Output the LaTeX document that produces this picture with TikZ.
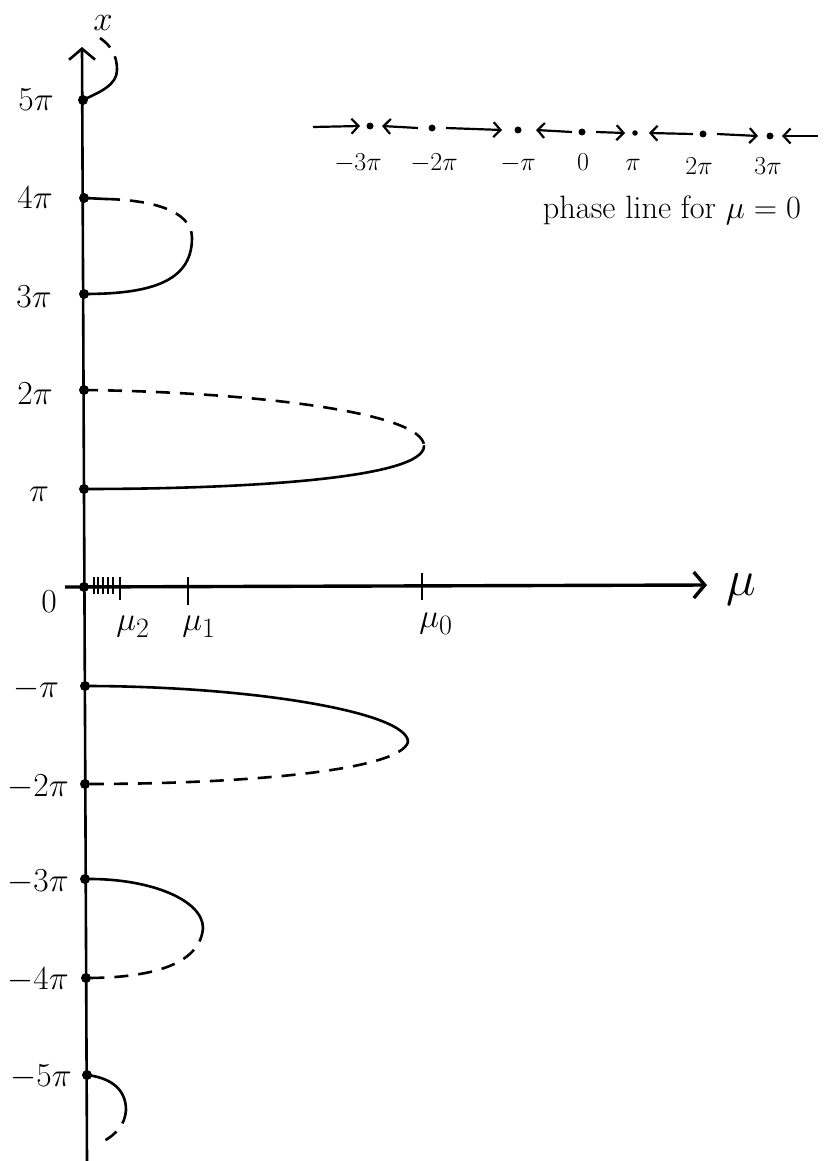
\documentclass[tikz,border=0pt]{standalone}
\usetikzlibrary{arrows.meta}
\begin{document}
\begin{tikzpicture}[x=1pt,y=-1pt,
  ax/.style={line width=2.6pt,-{Straight Barb[length=11pt,width=26pt]}},
  curve/.style={line width=2.6pt,line cap=round},
  dsh/.style={line width=2.6pt,dash pattern=on 14pt off 10pt},
  dot/.style={circle,fill,inner sep=0pt,minimum size=10pt},
  sdot/.style={circle,fill,inner sep=0pt,minimum size=7pt},
  parr/.style={line width=2.2pt,-{Straight Barb[length=7pt,width=15pt]}},
  lab/.style={font=\Huge,scale=1.35,transform shape,inner sep=1pt},
  plab/.style={font=\huge,scale=1.25,transform shape,inner sep=1pt},
  tick/.style={line width=2.4pt}]
\useasboundingbox (0,0) rectangle (824,1161);
\fill[white] (0,0) rectangle (824,1161);

% vertical axis
\coordinate (vb) at (87,1161);
\coordinate (vt) at (82,47);
\draw[ax] (vb) -- (vt);
% horizontal axis
\coordinate (hl) at (65,587);
\coordinate (hr) at (707,585);
\draw[ax,line width=3.4pt] (hl) -- (hr);

% dots on axis
\node[dot] (p5) at (83,100) {};
\node[dot] (p4) at (84,198) {};
\node[dot] (p3) at (84,294) {};
\node[dot] (p2) at (84,390) {};
\node[dot] (p1) at (84,489) {};
\node[dot] (p0) at (84,587) {};
\node[dot] (m1) at (85,686) {};
\node[dot] (m2) at (85,784) {};
\node[dot] (m3) at (85,879) {};
\node[dot] (m4) at (86,978) {};
\node[dot] (m5) at (87,1075) {};

% labels left
\node[lab] (l5) at (36,100) {$5\pi$};
\node[lab] (l4) at (35,198) {$4\pi$};
\node[lab] (l3) at (34,297) {$3\pi$};
\node[lab] (l2) at (35,394) {$2\pi$};
\node[lab] (l1) at (39,494) {$\pi$};
\node[lab] (l0) at (49,602) {$0$};
\node[lab] (lm1) at (36,689) {$-\pi$};
\node[lab] (lm2) at (38,787) {$-2\pi$};
\node[lab] (lm3) at (38,882) {$-3\pi$};
\node[lab] (lm4) at (38,980) {$-4\pi$};
\node[lab] (lm5) at (41,1077) {$-5\pi$};
\node[font=\Huge,scale=1.4,transform shape,inner sep=0pt] (xl) at (103,23) {$x$};
\node[lab,scale=1.5] (mul) at (741,590) {$\mu$};

% ticks
\foreach \t in {94,98,103,108,113}{\draw[tick] (\t,577) -- (\t,594);}
\draw[tick] (120,577) -- (120,600);
\draw[tick] (188,577) -- (188,605);
\draw[tick] (422,573) -- (422,600);
\node[lab] (mu2) at (133,627) {$\mu_2$};
\node[lab] (mu1) at (199,627) {$\mu_1$};
\node[lab] (mu0) at (436,624) {$\mu_0$};

% top piece
\coordinate (t1) at (117,70);
\draw[curve] (p5.center) .. controls (100,92) and (117,85) .. (t1);
\draw[dsh] (t1) .. controls (117,54) and (110,45) .. (100,38);

% 4pi - 3pi loop
\coordinate (a) at (192,238);
\draw[curve] (p4.center) -- (106,199);
\draw[dsh] (106,199) .. controls (150,200) and (192,210) .. (a);
\draw[curve] (a) .. controls (192,282) and (150,294) .. (p3.center);

% 2pi - pi loop
\coordinate (b) at (424,446);
\draw[dsh] (p2.center) .. controls (250,392) and (424,412) .. (b);
\draw[curve] (b) .. controls (424,478) and (250,489) .. (p1.center);

% -pi - -2pi loop
\coordinate (c) at (408,742);
\draw[curve] (m1.center) .. controls (250,686) and (408,712) .. (c);
\draw[dsh] (c) .. controls (400,770) and (250,784) .. (m2.center);

% -3pi - -4pi loop
\coordinate (d) at (203,928);
\draw[curve] (m3.center) .. controls (150,878) and (203,900) .. (d);
\draw[dsh] (d) .. controls (200,965) and (150,978) .. (m4.center);

% bottom piece
\coordinate (e) at (126,1110);
\draw[curve] (m5.center) .. controls (112,1078) and (126,1090) .. (e);
\draw[dsh] (e) .. controls (125,1125) and (116,1134) .. (104,1141);

% phase line
\node[sdot] (q1) at (370,126) {};
\node[sdot] (q2) at (432,128) {};
\node[sdot] (q3) at (518,130) {};
\node[sdot] (q4) at (582,132) {};
\node[sdot,minimum size=5.5pt] (q5) at (635,133) {};
\node[sdot] (q6) at (703,134) {};
\node[sdot] (q7) at (770,136) {};
\coordinate (s0) at (313,127);
\coordinate (s8) at (818,136);
\draw[parr] (s0) -- ([xshift=-10pt]q1.center);
\draw[parr] ([xshift=-14pt]q2.center) -- ([xshift=12pt]q1.center);
\draw[parr] ([xshift=14pt]q2.center) -- ([xshift=-16pt]q3.center);
\draw[parr] ([xshift=-10pt]q4.center) -- ([xshift=18pt]q3.center);
\draw[parr] ([xshift=14pt]q4.center) -- ([xshift=-10pt]q5.center);
\draw[parr] ([xshift=-10pt]q6.center) -- ([xshift=14pt]q5.center);
\draw[parr] ([xshift=14pt]q6.center) -- ([xshift=-12pt]q7.center);
\draw[parr] (s8) -- ([xshift=12pt]q7.center);
\node[plab] (r1) at (358,163) {$-3\pi$};
\node[plab] (r2) at (434,163) {$-2\pi$};
\node[plab] (r3) at (518,164) {$-\pi$};
\node[plab] (r4) at (583,162) {$0$};
\node[plab] (r5) at (633,165) {$\pi$};
\node[plab] (r6) at (699,166) {$2\pi$};
\node[plab] (r7) at (768,166) {$3\pi$};
\node[font=\Huge,scale=1.3,transform shape,inner sep=0pt] (pl) at (672,210) {phase line for $\mu=0$};
\end{tikzpicture}
\end{document}
